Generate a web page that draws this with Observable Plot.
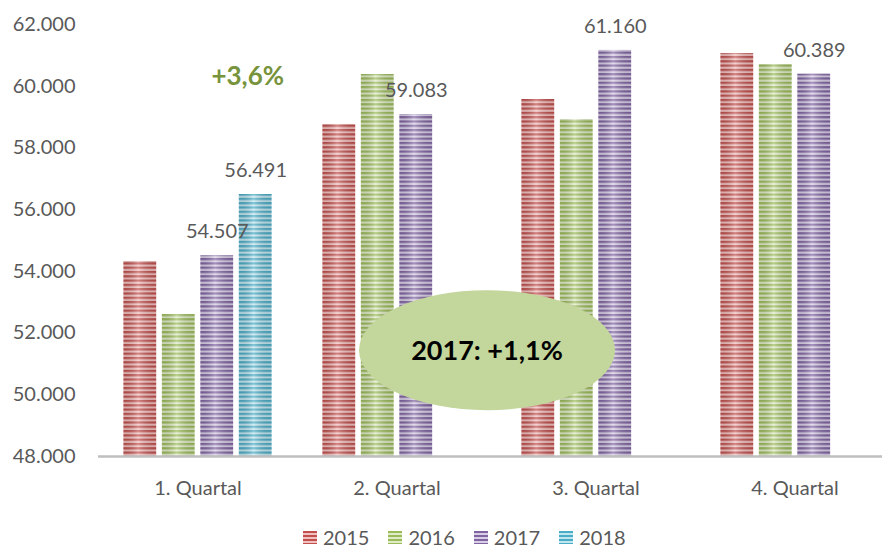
<!DOCTYPE html>
<html><head><meta charset="utf-8">
<script src="https://cdn.jsdelivr.net/npm/d3@7"></script>
<script src="https://cdn.jsdelivr.net/npm/@observablehq/plot@0.6"></script>
<style>
body{margin:0;background:#fff;font-family:Lato,"Open Sans",sans-serif;overflow:hidden;position:relative;height:548px}
#chart svg{display:block}
#legend{position:absolute;left:303px;top:527px;display:flex;align-items:center;height:20px;line-height:20px;font-size:20px;color:#595959;font-family:Lato,"Open Sans",sans-serif}
.item{display:flex;align-items:center;margin-right:19px}
.sw{width:14px;height:13px;margin-right:6px}
</style></head><body><div id="chart"></div><div id="legend"></div>
<script>
const quarters = ["1. Quartal", "2. Quartal", "3. Quartal", "4. Quartal"];
const years = ["2015", "2016", "2017", "2018"];
const values2015 = [54320, 58760, 59570, 61060];
const values2016 = [52600, 60380, 58920, 60700];
const values2017 = [54507, 59083, 61160, 60389];
const values2018 = [56491, null, null, null];
const labelledYears = ["2017", "2018"];
const yTicks = [48000, 50000, 52000, 54000, 56000, 58000, 60000, 62000];
const darkColors = ["#c0504d", "#9bbb59", "#8064a2", "#4bacc6"];
const lightColors = ["#f2c0bf", "#e0ebc8", "#d8cee6", "#c2e6f0"];
const growthNote = "+3,6%";
const growthAnchorQuarter = "1. Quartal";
const growthAnchorYear = "2018";
const growthAnchorValue = 60300;
const ellipseNote = "2017: +1,1%";
const ellipseAnchorValue = 51430;

const series = [values2015, values2016, values2017, values2018];
const data = [];
quarters.forEach((q, i) => years.forEach((y, j) => {
  if (series[j][i] != null) data.push({q, year: y, value: series[j][i]});
}));

const de = d3.formatLocale({decimal: ",", thousands: ".", grouping: [3], currency: ["", "€"]});
const fmt = de.format(",.0f");

const barMarks = [];
years.forEach((y, j) => {
  const sub = data.filter(d => d.year === y);
  barMarks.push(Plot.barY(sub, {fx: "q", x: "year", y1: 48000, y2: "value", fill: `url(#p${y})`}));
  barMarks.push(Plot.barY(sub, {fx: "q", x: "year", y1: 48000, y2: "value", fill: "url(#shine)"}));
});

const plot = Plot.plot({
  width: 882,
  height: 520,
  marginLeft: 96,
  marginRight: -13,
  marginTop: 24,
  marginBottom: 64,
  style: {fontFamily: "Lato, 'Open Sans', sans-serif", color: "#595959", background: "#fff"},
  fx: {domain: quarters, paddingInner: 0, paddingOuter: 0, axis: null},
  x: {domain: years, paddingInner: 0.147, paddingOuter: 0.66, axis: null, round: false},
  y: {domain: [48000, 62000], axis: null},
  marks: [
    ...barMarks,
    Plot.ruleY([48000], {stroke: "#bfbfbf", strokeWidth: 2.5}),
    Plot.axisY({ticks: yTicks, tickFormat: fmt, tickSize: 0, tickPadding: 23, fontSize: 20, label: null, facetAnchor: "left", fill: "#595959"}),
    Plot.axisFx({anchor: "bottom", tickSize: 0, tickPadding: 24, fontSize: 20, label: null, fill: "#595959"}),
    Plot.text(data.filter(d => labelledYears.includes(d.year)), {fx: "q", x: "year", y: "value", text: d => fmt(d.value), dy: -24, fontSize: 20, fill: "#595959"}),
    Plot.text([{q: growthAnchorQuarter, year: growthAnchorYear, value: growthAnchorValue}], {fx: "q", x: "year", y: "value", text: () => growthNote, dx: -8, fontSize: 26, fontWeight: "bold", fill: "#77933c"})
  ]
});

const svg = d3.select(plot);
const defs = svg.insert("defs", ":first-child");
years.forEach((y, j) => {
  const p = defs.append("pattern").attr("id", `p${y}`).attr("patternUnits", "userSpaceOnUse").attr("width", 10).attr("height", 4.3);
  p.append("rect").attr("width", 10).attr("height", 4.3).attr("fill", lightColors[j]);
  p.append("rect").attr("width", 10).attr("height", 2.2).attr("fill", darkColors[j]);
});
const g = defs.append("linearGradient").attr("id", "shine").attr("x1", 0).attr("x2", 1).attr("y1", 0).attr("y2", 0);
g.append("stop").attr("offset", "0").attr("stop-color", "#000").attr("stop-opacity", 0.1);
g.append("stop").attr("offset", "0.45").attr("stop-color", "#fff").attr("stop-opacity", 0.3);
g.append("stop").attr("offset", "1").attr("stop-color", "#000").attr("stop-opacity", 0.1);

const fxScale = plot.scale("fx");
const yScale = plot.scale("y");
const cx = fxScale.apply("3. Quartal") - 9;
const cy = yScale.apply(ellipseAnchorValue);
svg.append("ellipse").attr("cx", cx).attr("cy", cy).attr("rx", 128).attr("ry", 60).attr("fill", "#c3d69b");
svg.append("text").attr("x", cx).attr("y", cy).attr("dy", "0.35em").attr("text-anchor", "middle")
  .attr("font-size", 27).attr("font-weight", "bold").attr("fill", "#000").text(ellipseNote);

document.getElementById("chart").append(plot);

const legend = d3.select("#legend");
years.forEach((y, j) => {
  const it = legend.append("div").attr("class", "item");
  it.append("div").attr("class", "sw").style("background", `repeating-linear-gradient(to bottom, ${darkColors[j]} 0 2px, ${lightColors[j]} 2px 4px)`);
  it.append("span").text(y);
});
</script></body></html>
